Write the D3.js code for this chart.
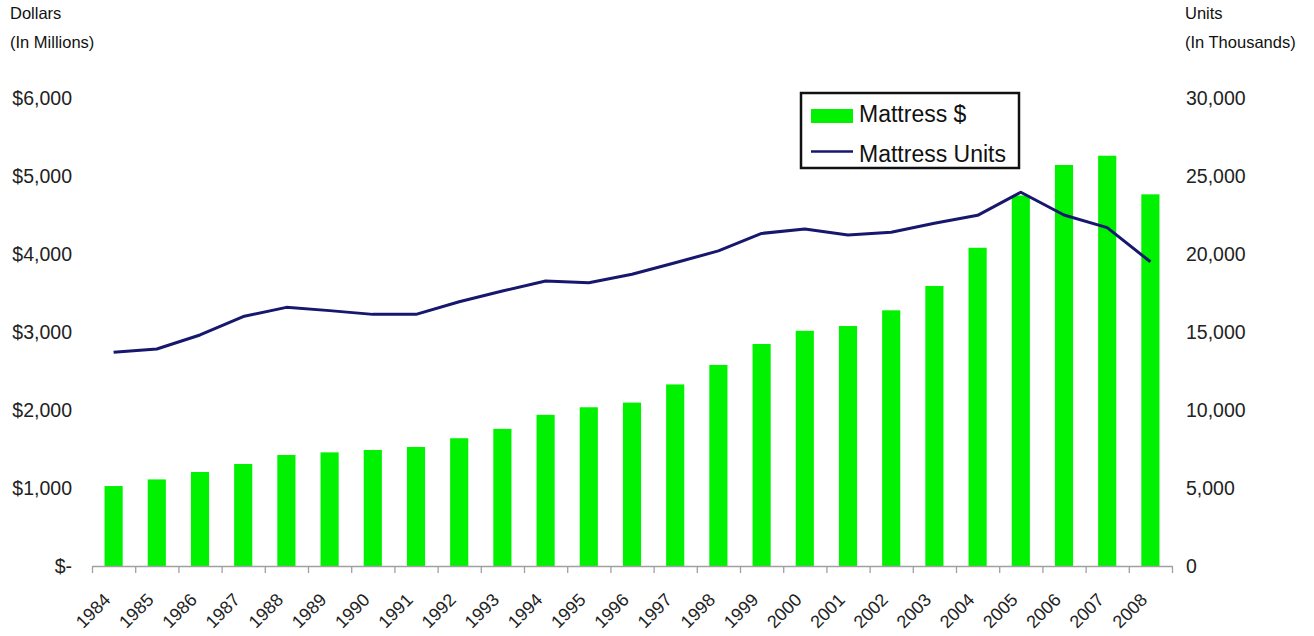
<!DOCTYPE html>
<html>
<head>
<meta charset="utf-8">
<script src="https://cdn.jsdelivr.net/npm/d3@7"></script>
<style>
  body { margin: 0; background: #fff; }
  svg { display: block; font-family: "Liberation Sans", Arial, sans-serif; }
  .line { fill: none; stroke: #17176e; stroke-width: 3px; stroke-linejoin: round; }
</style>
</head>
<body>
<svg id="chart" width="1314" height="636"></svg>
<script>
// <----------------- data ----------------------->
const years = ["1984", "1985", "1986", "1987", "1988", "1989", "1990", "1991", "1992", "1993",
  "1994", "1995", "1996", "1997", "1998", "1999", "2000", "2001", "2002", "2003",
  "2004", "2005", "2006", "2007", "2008"];
const dollars = [1025, 1110, 1205, 1308, 1423, 1457, 1487, 1526, 1638, 1758,
  1938, 2035, 2095, 2328, 2578, 2846, 3015, 3077, 3278, 3590,
  4080, 4750, 5141, 5260, 4765];
const units = [13700, 13910, 14810, 15990, 16580, 16370, 16130, 16130, 16940, 17630,
  18270, 18160, 18700, 19440, 20200, 21320, 21600, 21220, 21390, 21970,
  22480, 23960, 22500, 21690, 19500];
const leftTicks = [0, 1000, 2000, 3000, 4000, 5000, 6000];
const rightTicks = [0, 5000, 10000, 15000, 20000, 25000, 30000];
const seriesNames = ["Mattress $", "Mattress Units"];

const data = years.map((y, i) => ({ year: y, dollars: dollars[i], units: units[i] }));

let plotLeft = 92;
let plotRight = 1172;
let plotTop = 98;
let plotBottom = 566;

const svg = d3.select("#chart");

let xScale = d3.scaleBand()
  .domain(years)
  .range([plotLeft, plotRight])
  .paddingInner(0.58)
  .paddingOuter(0.29);
let yLeft = d3.scaleLinear().domain([0, 6000]).range([plotBottom, plotTop]);
let yRight = d3.scaleLinear().domain([0, 30000]).range([plotBottom, plotTop]);

// <----------------- bars ----------------------->
svg.append("g")
  .selectAll("rect")
  .data(data)
  .join("rect")
  .attr("x", (d) => xScale(d.year))
  .attr("y", (d) => yLeft(d.dollars))
  .attr("width", xScale.bandwidth())
  .attr("height", (d) => plotBottom - yLeft(d.dollars))
  .attr("fill", "#00f200");

// <----------------- x axis (ticks on band edges) ----------------------->
let edgeScale = d3.scaleLinear().domain([0, years.length]).range([plotLeft, plotRight]);
let xAxis = d3.axisBottom(edgeScale)
  .tickValues(d3.range(0, years.length + 1))
  .tickSize(7)
  .tickSizeOuter(0)
  .tickFormat("");
const gx = svg.append("g").attr("transform", "translate(0," + plotBottom + ")").call(xAxis);
gx.selectAll("path, line").attr("stroke", "#a0a0a0").attr("stroke-width", 1.3);

svg.append("g")
  .selectAll("text")
  .data(years)
  .join("text")
  .attr("transform", (d) => "translate(" + (xScale(d) + xScale.bandwidth() / 2 - 2) + "," + (plotBottom + 35) + ") rotate(-45)")
  .attr("text-anchor", "end")
  .attr("font-size", 18)
  .attr("fill", "#222")
  .text((d) => d);

// <----------------- y axes ----------------------->
let leftAxis = d3.axisLeft(yLeft)
  .tickValues(leftTicks)
  .tickSize(0)
  .tickPadding(20)
  .tickFormat((d) => (d === 0 ? "$-" : "$" + d3.format(",")(d)));
const gl = svg.append("g").attr("transform", "translate(" + plotLeft + ",0)").call(leftAxis);
gl.select(".domain").remove();
gl.selectAll("text").attr("font-size", 19.5).attr("fill", "#222");
gl.attr("font-family", null);

let rightAxis = d3.axisRight(yRight)
  .tickValues(rightTicks)
  .tickSize(0)
  .tickPadding(14)
  .tickFormat(d3.format(","));
const gr = svg.append("g").attr("transform", "translate(" + plotRight + ",0)").call(rightAxis);
gr.select(".domain").remove();
gr.selectAll("text").attr("font-size", 19.5).attr("fill", "#222");
gr.attr("font-family", null);

// axis titles
svg.append("text").attr("x", 10).attr("y", 19).attr("font-size", 16.5).attr("fill", "#111").text("Dollars");
svg.append("text").attr("x", 10).attr("y", 48).attr("font-size", 16.5).attr("fill", "#111").text("(In Millions)");
svg.append("text").attr("x", 1185).attr("y", 19).attr("font-size", 16.5).attr("fill", "#111").text("Units");
svg.append("text").attr("x", 1185).attr("y", 48).attr("font-size", 16.5).attr("fill", "#111").text("(In Thousands)");

// <----------------- line ----------------------->
let line = d3.line()
  .x((d) => xScale(d.year) + xScale.bandwidth() / 2)
  .y((d) => yRight(d.units));
svg.append("path").datum(data).attr("class", "line").attr("d", line);

// <----------------- legend ----------------------->
const legend = svg.append("g").attr("transform", "translate(801,93)");
legend.append("rect")
  .attr("width", 218)
  .attr("height", 75)
  .attr("fill", "#fff")
  .attr("stroke", "#111")
  .attr("stroke-width", 2.5);
legend.append("rect")
  .attr("x", 10).attr("y", 16).attr("width", 42).attr("height", 14)
  .attr("fill", "#00f200");
legend.append("line")
  .attr("x1", 10).attr("x2", 52).attr("y1", 58.5).attr("y2", 58.5)
  .attr("stroke", "#17176e").attr("stroke-width", 2.5);
legend.selectAll("text.lbl")
  .data(seriesNames)
  .join("text")
  .attr("class", "lbl")
  .attr("x", 58)
  .attr("y", (d, i) => 29 + i * 40)
  .attr("font-size", 23)
  .attr("fill", "#111")
  .text((d) => d);
</script>
</body>
</html>
